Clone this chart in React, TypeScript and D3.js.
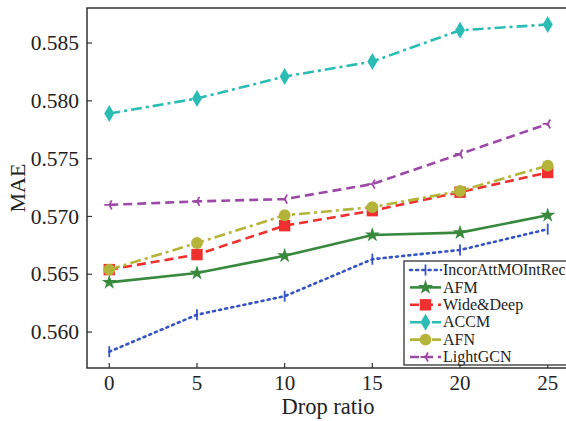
import { line, scaleLinear, symbol, symbolCircle, symbolSquare, symbolStar } from 'd3';

const dropRatios = [0, 5, 10, 15, 20, 25];
const yTicks = [0.56, 0.565, 0.57, 0.575, 0.58, 0.585];

const incorValues = [0.5583, 0.5615, 0.5631, 0.5663, 0.5671, 0.5689];
const afmValues = [0.5643, 0.5651, 0.5666, 0.5684, 0.5686, 0.5701];
const wideDeepValues = [0.5654, 0.5667, 0.5692, 0.5705, 0.5721, 0.5738];
const accmValues = [0.5789, 0.5802, 0.5821, 0.5834, 0.5861, 0.5866];
const afnValues = [0.5654, 0.5677, 0.5701, 0.5708, 0.5722, 0.5744];
const lightgcnValues = [0.571, 0.5713, 0.5715, 0.5728, 0.5754, 0.578];

const seriesNames = ['IncorAttMOIntRec', 'AFM', 'Wide&Deep', 'ACCM', 'AFN', 'LightGCN'];

const series = [
  { name: seriesNames[0], values: incorValues, color: '#3653c4', dash: '2,4.2', marker: 'vbar' },
  { name: seriesNames[1], values: afmValues, color: '#38883e', dash: undefined, marker: 'star' },
  { name: seriesNames[2], values: wideDeepValues, color: '#f0302e', dash: '9,5', marker: 'square' },
  { name: seriesNames[3], values: accmValues, color: '#2bbdb3', dash: '11,4,3,4', marker: 'diamond' },
  { name: seriesNames[4], values: afnValues, color: '#b4b43a', dash: '11,4,3,4', marker: 'circle' },
  { name: seriesNames[5], values: lightgcnValues, color: '#9b48a6', dash: '9,5', marker: 'tri' },
];

const W = 566;
const H = 421;
const plot = { left: 87, right: 570, top: 8, bottom: 368 };
const serif = { fontFamily: '"Liberation Serif"' };
const axisColor = '#333';
const textColor = '#222';

const x = scaleLinear().domain([-1.27, 26.27]).range([plot.left, plot.right]);
const y = scaleLinear().domain([0.55689, 0.58803]).range([plot.bottom, plot.top]);

const lineGen = line<number>()
  .x((d, i) => x(dropRatios[i]))
  .y((d) => y(d));

const Marker = ({ type, cx, cy, color }: { type: string; cx: number; cy: number; color: string }) => {
  const t = `translate(${cx},${cy})`;
  if (type === 'square') return <path transform={t} d={symbol(symbolSquare, 130)()!} fill={color} />;
  if (type === 'circle') return <path transform={t} d={symbol(symbolCircle, 110)()!} fill={color} />;
  if (type === 'star') return <path transform={t} d={symbol(symbolStar, 70)()!} fill={color} />;
  if (type === 'diamond') return <path transform={t} d="M0,-8.5L5,0L0,8.5L-5,0Z" fill={color} />;
  if (type === 'vbar') return <path transform={t} d="M0,-5.5V5.5" stroke={color} strokeWidth={1.8} />;
  return (
    <path
      transform={t}
      d="M0,0L-5,0M0,0L2.5,-4.5M0,0L2.5,4.5"
      stroke={color}
      strokeWidth={1.8}
      fill="none"
    />
  );
};

const App = () => {
  return (
    <svg
      width={W}
      height={H}
      style={{ position: 'absolute', left: 0, top: 0, background: 'white', overflow: 'hidden' }}
    >
      <rect
        x={plot.left}
        y={plot.top}
        width={plot.right - plot.left}
        height={plot.bottom - plot.top}
        fill="none"
        stroke={axisColor}
        strokeWidth={1.5}
      />

      {/* y axis, ticks point inward */}
      {yTicks.map((t) => (
        <g key={t}>
          <line x1={plot.left} x2={plot.left + 5} y1={y(t)} y2={y(t)} stroke={axisColor} strokeWidth={1.2} />
          <text
            x={plot.left - 8}
            y={y(t)}
            dy="0.33em"
            textAnchor="end"
            fontSize={21.5}
            fill={textColor}
            style={serif}
          >
            {t.toFixed(3)}
          </text>
        </g>
      ))}

      {/* x axis */}
      {dropRatios.map((t) => (
        <g key={t}>
          <line x1={x(t)} x2={x(t)} y1={plot.bottom} y2={plot.bottom - 5} stroke={axisColor} strokeWidth={1.2} />
          <text x={x(t)} y={390} textAnchor="middle" fontSize={21} fill={textColor} style={serif}>
            {t}
          </text>
        </g>
      ))}

      <text x={328} y={414} textAnchor="middle" fontSize={22.5} fill={textColor} style={serif}>
        Drop ratio
      </text>
      <text
        transform="translate(25,188) rotate(-90)"
        textAnchor="middle"
        fontSize={22}
        fill={textColor}
        style={serif}
      >
        MAE
      </text>

      {series.map((s) => (
        <g key={s.name}>
          <path
            d={lineGen(s.values)!}
            fill="none"
            stroke={s.color}
            strokeWidth={2.6}
            strokeDasharray={s.dash}
            strokeLinecap={s.marker === 'vbar' ? 'round' : 'butt'}
          />
          {s.values.map((v, i) => (
            <Marker key={i} type={s.marker} cx={x(dropRatios[i])} cy={y(v)} color={s.color} />
          ))}
        </g>
      ))}

      {/* legend */}
      <g>
        <rect x={404} y={261} width={180} height={104} fill="white" stroke={axisColor} strokeWidth={1.3} />
        {series.map((s, i) => {
          const ly = 270 + i * 17.4;
          return (
            <g key={s.name}>
              <line
                x1={410}
                x2={441}
                y1={ly}
                y2={ly}
                stroke={s.color}
                strokeWidth={2.6}
                strokeDasharray={s.dash}
                strokeLinecap={s.marker === 'vbar' ? 'round' : 'butt'}
              />
              <Marker type={s.marker} cx={425.5} cy={ly} color={s.color} />
              <text x={443} y={ly} dy="0.33em" fontSize={16} fill={textColor} style={serif}>
                {s.name}
              </text>
            </g>
          );
        })}
      </g>
    </svg>
  );
};

export default App;
